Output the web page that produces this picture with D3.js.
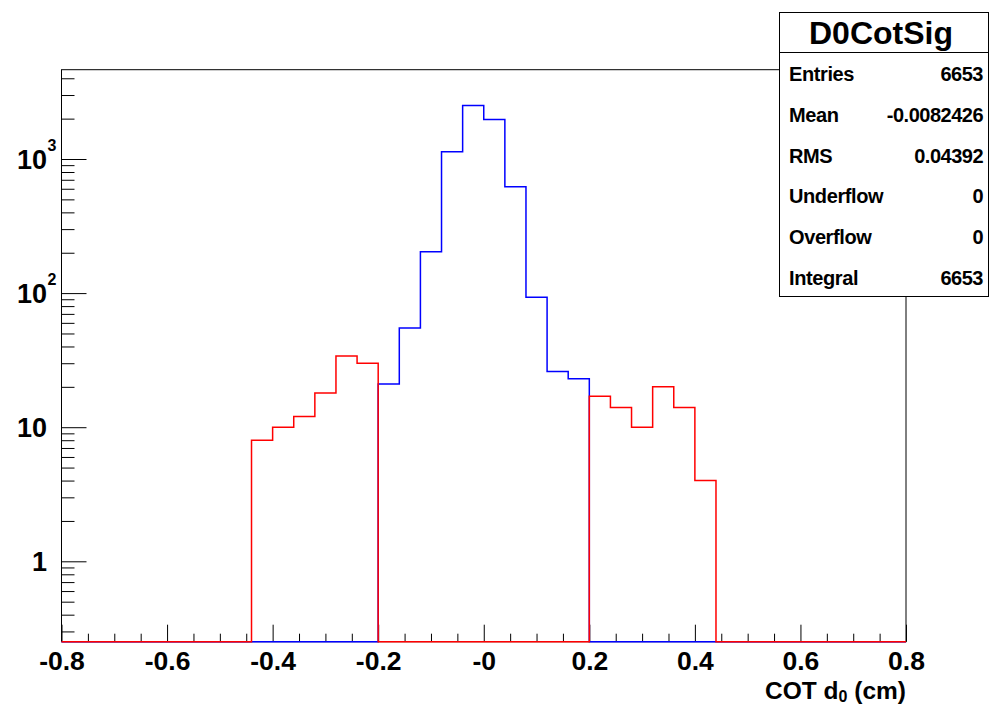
<!DOCTYPE html>
<html><head><meta charset="utf-8">
<script src="https://cdn.jsdelivr.net/npm/d3@7/dist/d3.min.js"></script>
<style>
body{margin:0;background:#fff}
svg{display:block}
text{font-family:"Liberation Sans",Arial,sans-serif;font-weight:bold;fill:#000}
</style>
</head><body>
<svg id="c" width="991" height="706"></svg>
<script>
// ---- data ----
const binEdges = [-0.8,-0.76,-0.72,-0.68,-0.64,-0.6,-0.56,-0.52,-0.48,-0.44,-0.4,-0.36,-0.32,-0.28,-0.24,-0.2,-0.16,-0.12,-0.08,-0.04,0,
  0.04,0.08,0.12,0.16,0.2,0.24,0.28,0.32,0.36,0.4,0.44,0.48,0.52,0.56,0.6,0.64,0.68,0.72,0.76,0.8];
const blueCounts = [0,0,0,0,0,0,0,0,0,0,0,0,0,0,0,
  21,55,203,1135,2505,1970,622,93,26,23,
  0,0,0,0,0,0,0,0,0,0,0,0,0,0,0];
const redCounts = [0,0,0,0,0,0,0,0,0,8,10,12,18,34,30,
  0,0,0,0,0,0,0,0,0,0,
  17,14,10,20,14,4,0,0,0,0,0,0,0,0,0];
const xTickValues = [-0.8,-0.6,-0.4,-0.2,0,0.2,0.4,0.6,0.8];
const xTickLabels = ["-0.8","-0.6","-0.4","-0.2","-0","0.2","0.4","0.6","0.8"];
const xMinorTicks = [-0.75,-0.7,-0.65,-0.55,-0.5,-0.45,-0.35,-0.3,-0.25,-0.15,-0.1,-0.05,
  0.05,0.1,0.15,0.25,0.3,0.35,0.45,0.5,0.55,0.65,0.7,0.75];
const yTickValues = [1,10,100,1000];
const yTickBase = ["1","10","10","10"];
const yTickExp = ["","","2","3"];
const yMinorTicks = [0.3,0.4,0.5,0.6,0.7,0.8,0.9,2,3,4,5,6,7,8,9,20,30,40,50,60,70,80,90,
  200,300,400,500,600,700,800,900,2000,3000,4000];
const statsTitle = "D0CotSig";
const statsLabels = ["Entries","Mean","RMS","Underflow","Overflow","Integral"];
const statsValues = ["6653","-0.0082426","0.04392","0","0","6653"];
const xTitle = "COT d";
const xTitleSub = "0";
const xTitleUnit = " (cm)";

// ---- layout ----
const L = 61.5, R = 906, T = 69.7, B = 641.7;
const yMin = 0.2515, yMax = 4634;
const svg = d3.select("#c");
const x = d3.scaleLinear().domain([-0.8, 0.8]).range([L, R]);
const y = d3.scaleLog().domain([yMin, yMax]).range([B, T]);

// frame
svg.append("rect").attr("x", L).attr("y", T).attr("width", R - L).attr("height", B - T)
  .attr("fill", "none").attr("stroke", "#000").attr("stroke-width", 1);

// x axis ticks
const gx = svg.append("g").attr("transform", `translate(0,${B})`);
gx.call(d3.axisBottom(x).tickValues(xMinorTicks).tickSize(-8).tickSizeOuter(0).tickFormat(""));
gx.select(".domain").remove();
const gx2 = svg.append("g").attr("transform", `translate(0,${B})`);
gx2.call(d3.axisBottom(x).tickValues(xTickValues).tickSize(-17).tickSizeOuter(0)
  .tickFormat((d, i) => xTickLabels[i]));
gx2.select(".domain").remove();
gx2.selectAll("text").attr("y", 28.8).attr("dy", null).attr("font-size", 26.5)
  .style("font-family", '"Liberation Sans",Arial,sans-serif').style("font-weight", "bold");

// y axis ticks
const gy = svg.append("g").attr("transform", `translate(${L},0)`);
gy.call(d3.axisLeft(y).tickValues(yMinorTicks).tickSize(-13).tickSizeOuter(0).tickFormat(""));
gy.select(".domain").remove();
const gy2 = svg.append("g").attr("transform", `translate(${L},0)`);
gy2.call(d3.axisLeft(y).tickValues(yTickValues).tickSize(-25).tickSizeOuter(0).tickFormat(""));
gy2.select(".domain").remove();
svg.selectAll("g.tick line").attr("stroke", "#000").attr("stroke-width", 1);

// y labels
yTickValues.forEach((v, i) => {
  svg.append("text").attr("x", 47).attr("y", y(v) + 10)
    .attr("text-anchor", "end").attr("font-size", 27).text(yTickBase[i]);
  if (yTickExp[i]) {
    svg.append("text").attr("x", 47.5).attr("y", y(v) - 8)
      .attr("font-size", 16).text(yTickExp[i]);
  }
});

// histograms
function stepPoints(counts) {
  const pts = [];
  counts.forEach((c, i) => {
    const v = c > 0 ? c : yMin;
    pts.push([binEdges[i], v], [binEdges[i + 1], v]);
  });
  return pts;
}
const line = d3.line().x(d => x(d[0])).y(d => y(Math.max(yMin, d[1])));
svg.append("path").attr("d", line(stepPoints(blueCounts)))
  .attr("fill", "none").attr("stroke", "#0000ff").attr("stroke-width", 1.5);
svg.append("path").attr("d", line(stepPoints(redCounts)))
  .attr("fill", "none").attr("stroke", "#ff0000").attr("stroke-width", 1.5);

// x title
const xt = svg.append("text").attr("x", R).attr("y", 698.5).attr("text-anchor", "end").attr("font-size", 24.5);
xt.append("tspan").text(xTitle);
xt.append("tspan").attr("font-size", 16).attr("dy", 3).text(xTitleSub);
xt.append("tspan").attr("dy", -3).text(xTitleUnit);

// stats box
const bx = 779.5, by = 12.5, bw = 209, bh = 284;
svg.append("rect").attr("x", bx).attr("y", by).attr("width", bw).attr("height", bh)
  .attr("fill", "#fff").attr("stroke", "#000").attr("stroke-width", 1);
svg.append("line").attr("x1", bx).attr("x2", bx + bw).attr("y1", 52.5).attr("y2", 52.5)
  .attr("stroke", "#000").attr("stroke-width", 1);
svg.append("text").attr("x", bx + bw / 2 - 3).attr("y", 43.5).attr("text-anchor", "middle")
  .attr("font-size", 32).text(statsTitle);
statsLabels.forEach((lab, i) => {
  const yy = 81 + i * 40.8;
  svg.append("text").attr("x", 789).attr("y", yy).attr("font-size", 20)
    .attr("letter-spacing", -0.4).text(lab);
  svg.append("text").attr("x", 983).attr("y", yy).attr("text-anchor", "end").attr("font-size", 20)
    .attr("letter-spacing", -0.5).text(statsValues[i]);
});
</script>
</body></html>
